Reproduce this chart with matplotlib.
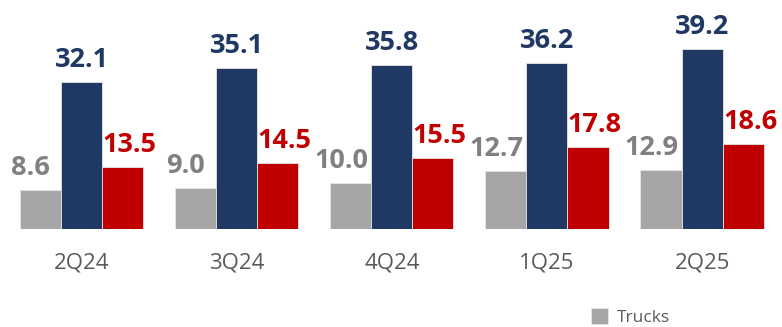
import matplotlib.pyplot as plt
import numpy as np
import matplotlib

matplotlib.rcParams['font.family'] = ['Open Sans', 'DejaVu Sans']

quarters = ['2Q24', '3Q24', '4Q24', '1Q25', '2Q25']
trucks = [8.6, 9.0, 10.0, 12.7, 12.9]
series_b = [32.1, 35.1, 35.8, 36.2, 39.2]
series_c = [13.5, 14.5, 15.5, 17.8, 18.6]

bar_colors = ['#A6A6A6', '#1F3864', '#C00000']
label_colors = ['#808080', '#1F3864', '#C00000']
label_shift = [-7, 0, 5]  # horizontal nudge of value labels, points

fig = plt.figure(figsize=(7.82, 3.27), dpi=100)
ax = fig.add_axes([0.005, 0.2997, 0.992, 0.7003])

x = np.arange(len(quarters))
w = 0.265
series = [trucks, series_b, series_c]
bars = []
for i, vals in enumerate(series):
    b = ax.bar(x + (i - 1) * w, vals, width=w, color=bar_colors[i],
               edgecolor='#E6E6E6', linewidth=0.6)
    bars.append(b)
    for xi, v in zip(x + (i - 1) * w, vals):
        ax.annotate(f'{v:.1f}', (xi, v), xytext=(label_shift[i], 6.5),
                    textcoords='offset points', ha='center', va='bottom',
                    fontsize=19.5, fontweight='bold', color=label_colors[i])

ax.set_xlim(-0.5, 4.5)
ax.set_ylim(0, 50)
ax.set_xticks(x)
ax.set_xticklabels(quarters, fontsize=16, color='#595959')
ax.tick_params(axis='x', length=0, pad=17)
ax.set_yticks([])
for s in ax.spines.values():
    s.set_visible(False)

fig.legend([bars[0]], ['Trucks'], loc='upper left', bbox_to_anchor=(0.745, 0.084),
           frameon=False, fontsize=12.5, handlelength=0.95, handleheight=1.0,
           labelcolor='#595959', borderpad=0, handletextpad=0.55)

plt.savefig('out.png', dpi=100)
